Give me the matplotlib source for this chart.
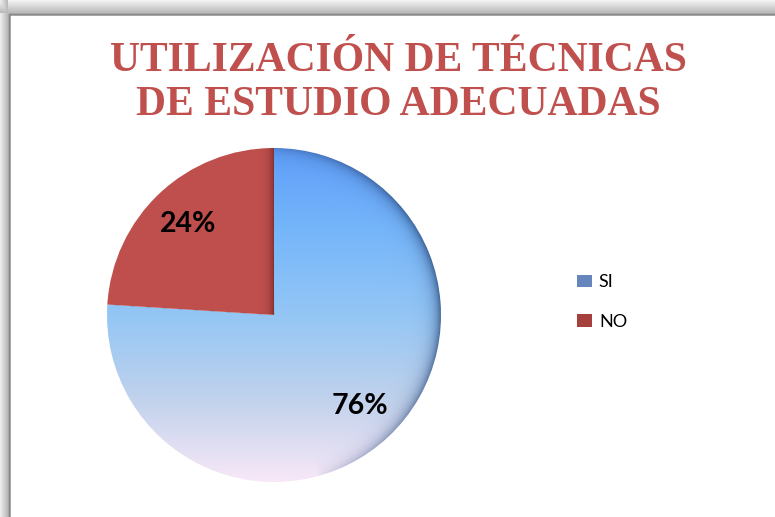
import numpy as np
import matplotlib.pyplot as plt
from matplotlib.patches import Patch, Rectangle

# datos del grafico
titulo = "UTILIZACIÓN DE TÉCNICAS\nDE ESTUDIO ADECUADAS"
categorias = ["SI", "NO"]
porcentajes = [76, 24]

W, H = 775, 517
fig = plt.figure(figsize=(W / 100, H / 100), dpi=100)
ax = fig.add_axes([0, 0, 1, 1])

# fondo gris con sombra del marco (arriba e izquierda)
px = np.arange(W)[None, :] * np.ones((H, 1))
py = np.arange(H)[:, None] * np.ones((1, W))
g_top = np.where(py < 13, 242 - 55 * py / 12, 255)
g_left = np.where(px < 8, 236 - 50 * px / 7, 255)
g = np.minimum(g_top, g_left) / 255.
bg = np.dstack([g, g, g])
ax.imshow(bg, extent=(0, W, 0, H), origin='upper', zorder=0, interpolation='bilinear')
ax.add_patch(Rectangle((8.5, -10), W + 20, (H - 14) + 10, facecolor='white',
                       edgecolor='#8a8a8a', lw=1.8, zorder=0.5))

# pastel
cx, cy, R = 274, 202, 167
wedges, texts, autotexts = ax.pie(
    porcentajes, startangle=90, counterclock=False, center=(cx, cy), radius=R,
    autopct='%1.0f%%', pctdistance=0.75,
    wedgeprops=dict(facecolor='none', edgecolor='none'),
    textprops=dict(fontsize=20.5, fontweight='bold', family='Lato', color='black'))
for t in autotexts:
    t.set_zorder(5)

N = 2 * R + 1
xs = np.linspace(cx - R, cx + R, N)
ys = np.linspace(cy - R, cy + R, N)
X, Y = np.meshgrid(xs, ys)
dx, dy = X - cx, Y - cy
r = np.hypot(dx, dy)
theta = np.degrees(np.arctan2(dy, dx))
tv = (Y - (cy - R)) / (2 * R)


def ray_dist(a):
    a = np.radians(a)
    along = dx * np.cos(a) + dy * np.sin(a)
    perp = dx * np.sin(a) - dy * np.cos(a)
    return np.where(along > 0, np.abs(perp), 1e9), perp


# SI: degradado azul -> rosado
stops = [0.0, 0.25, 0.5, 0.75, 1.0]
cols = np.array([[248, 232, 248], [192, 210, 236], [148, 198, 245],
                 [118, 182, 250], [95, 158, 250]]) / 255.
si = np.dstack([np.interp(tv, stops, cols[:, k]) for k in range(3)])
w = np.clip(np.cos(np.radians(theta - 15)), 0, 1) ** 0.7
shade = 0.7 * w * np.exp(-(R - r) / 6.5)
dark = np.array([40, 70, 120]) / 255.
si = si * (1 - shade[..., None]) + dark * shade[..., None]
# sombra bajo la porcion NO
d_no, perp = ray_dist(wedges[1].theta2)
sh2 = 0.45 * np.exp(-d_no / 7.) * (perp > 0)
si = si * (1 - sh2[..., None]) + np.array([60, 80, 110]) / 255. * sh2[..., None]

# NO: rojo con sombra en su borde derecho
no = np.ones((N, N, 3)) * np.array([192, 80, 77]) / 255.
d_edge, _ = ray_dist(wedges[1].theta1)
sh3 = 0.6 * np.exp(-d_edge / 4.5)
no = no * (1 - sh3[..., None]) + np.array([90, 28, 28]) / 255. * sh3[..., None]

for wdg, img in zip(wedges, [si, no]):
    im = ax.imshow(np.clip(img, 0, 1), extent=(cx - R, cx + R, cy - R, cy + R),
                   origin='lower', zorder=2, interpolation='bilinear')
    im.set_clip_path(wdg)

ax.set_xlim(0, W)
ax.set_ylim(0, H)
ax.set_aspect('equal')
ax.axis('off')

# titulo
ax.text(398, H - 83, titulo, ha='center', va='center', fontsize=30,
        family='Liberation Serif', fontweight='bold', color='#C0504D',
        linespacing=1.22, zorder=5)

# leyenda
handles = [Patch(facecolor='#6486bd', edgecolor='none'),
           Patch(facecolor='#a5403d', edgecolor='none')]
ax.legend(handles, categorias, loc='center left', bbox_to_anchor=(561 / W, 1 - 302 / H),
          frameon=False, prop=dict(family='Lato', size=13), handlelength=0.8,
          handleheight=0.7, labelspacing=1.3, handletextpad=0.4)

fig.savefig('out.png', dpi=100)
